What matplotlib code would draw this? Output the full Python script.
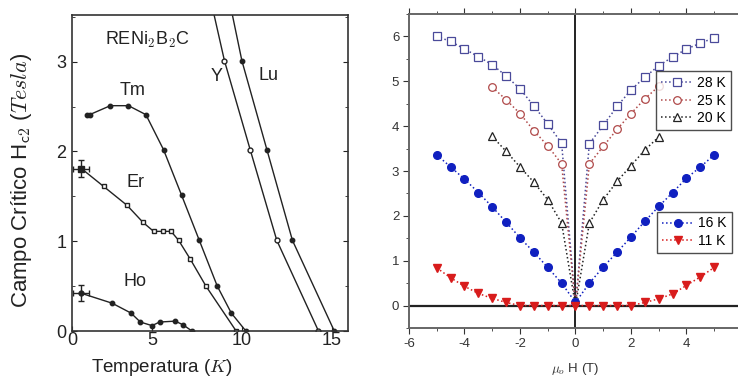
import matplotlib
matplotlib.use("Agg")
import matplotlib.pyplot as plt
from matplotlib.ticker import MultipleLocator

plt.rcParams['font.family'] = ['Liberation Sans', 'DejaVu Sans']
plt.rcParams['mathtext.fontset'] = 'cm'
plt.rcParams['axes.unicode_minus'] = False

# ---- left panel: Hc2 vs T for RENi2B2C ----
tm_t = [1.39, 1.53, 2.68, 3.69, 4.66, 5.64, 6.65, 7.63, 8.63, 9.41, 10.22]
tm_h = [2.41, 2.41, 2.51, 2.51, 2.41, 2.02, 1.51, 1.01, 0.50, 0.20, 0.00]
er_t = [1.07, 2.31, 3.61, 4.50, 5.09, 5.61, 6.06, 6.48, 7.13, 8.00, 9.68]
er_h = [1.81, 1.61, 1.40, 1.21, 1.11, 1.11, 1.11, 1.01, 0.80, 0.50, 0.00]
ho_t = [1.07, 2.78, 3.83, 4.35, 5.00, 5.42, 6.29, 6.72, 7.22]
ho_h = [0.42, 0.31, 0.20, 0.10, 0.06, 0.10, 0.11, 0.07, 0.00]
y_t = [8.42, 9.03, 10.46, 11.94, 14.26]
y_h = [3.55, 3.01, 2.02, 1.01, 0.00]
lu_t = [9.44, 10.00, 11.39, 12.81, 15.14]
lu_h = [3.55, 3.01, 2.02, 1.01, 0.00]

# ---- right panel: field dependence ----
h_full = [-5, -4.5, -4, -3.5, -3, -2.5, -2, -1.5, -1, -0.5, 0,
          0.5, 1, 1.5, 2, 2.5, 3, 3.5, 4, 4.5, 5]
h_mid = [-3, -2.5, -2, -1.5, -1, -0.5, 0, 0.5, 1, 1.5, 2, 2.5, 3]
v28 = [6.00, 5.89, 5.72, 5.55, 5.37, 5.12, 4.83, 4.45, 4.05, 3.62, 0.0,
       3.61, 4.02, 4.44, 4.81, 5.09, 5.35, 5.54, 5.72, 5.85, 5.97]
v25 = [4.87, 4.59, 4.28, 3.90, 3.56, 3.16, 0.0, 3.16, 3.55, 3.93, 4.28, 4.61, 4.89]
v20 = [3.77, 3.44, 3.09, 2.75, 2.36, 1.84, 0.0, 1.84, 2.36, 2.77, 3.12, 3.47, 3.76]
v16 = [3.36, 3.09, 2.82, 2.52, 2.20, 1.86, 1.51, 1.19, 0.85, 0.50, 0.07,
       0.50, 0.86, 1.19, 1.53, 1.88, 2.21, 2.52, 2.84, 3.09, 3.36]
v11 = [0.84, 0.62, 0.43, 0.27, 0.16, 0.07, 0.0, 0.0, 0.0, 0.0, 0.0,
       0.0, 0.0, 0.0, 0.0, 0.07, 0.15, 0.26, 0.45, 0.64, 0.85]

fig = plt.figure(figsize=(7.38, 3.81), dpi=100)

# left axes
ax1 = fig.add_axes([0.0976, 0.1312, 0.3739, 0.8294])
k = '#222222'
ax1.plot(tm_t, tm_h, '-', color=k, lw=1.0, marker='o', ms=3.2)
ax1.plot(er_t, er_h, '-', color=k, lw=1.0, marker='s', ms=3.5, mfc='white', markevery=list(range(1, len(er_t))))
ax1.errorbar(er_t[:1], er_h[:1], xerr=0.45, yerr=0.09, fmt='s', color=k, ms=5, capsize=2, elinewidth=1)
ax1.plot(ho_t, ho_h, '-', color=k, lw=1.0, marker='o', ms=3.2, markevery=list(range(1, len(ho_t))))
ax1.errorbar(ho_t[:1], ho_h[:1], xerr=0.45, yerr=0.09, fmt='o', color=k, ms=3.5, capsize=2, elinewidth=1)
ax1.plot(y_t, y_h, '-', color=k, lw=1.0, marker='o', ms=3.5, mfc='white', markevery=[1, 2, 3, 4])
ax1.plot(lu_t, lu_h, '-', color=k, lw=1.0, marker='o', ms=3.2, markevery=[1, 2, 3, 4])

ax1.set_xlim(0.55, 15.9)
ax1.set_ylim(0, 3.52)
ax1.set_xticks([0.55, 5, 10, 15])
ax1.set_xticklabels(['0', '5', '10', '15'])
ax1.set_yticks([0, 1, 2, 3])
ax1.yaxis.set_minor_locator(MultipleLocator(0.5))
ax1.tick_params(direction='in', right=True, which='both', labelsize=13, colors=k, pad=4)
ax1.tick_params(axis='x', pad=1)
for s in ax1.spines.values():
    s.set_color('#333333')
    s.set_linewidth(1.2)

ax1.text(2.4, 3.24, r'RENi$_\mathsf{2}$B$_\mathsf{2}$C', fontsize=13, va='center', color=k)
ax1.text(3.9, 2.68, 'Tm', fontsize=13, ha='center', va='center', color=k)
ax1.text(4.07, 1.65, 'Er', fontsize=13, ha='center', va='center', color=k)
ax1.text(4.07, 0.55, 'Ho', fontsize=13, ha='center', va='center', color=k)
ax1.text(8.6, 2.83, 'Y', fontsize=13, ha='center', va='center', color=k)
ax1.text(11.5, 2.85, 'Lu', fontsize=13, ha='center', va='center', color=k)

fig.text(22 / 738, 1 - 180 / 381, r'Campo Crítico H$_{\mathsf{c2}}$ ($Tesla$)',
         rotation=90, fontsize=16, ha='center', va='center', color=k)
fig.text(162 / 738, 1 - 367 / 381, r'Temperatura ($K$)', fontsize=13.5,
         ha='center', va='center', color=k)

# right axes
ax2 = fig.add_axes([0.5542, 0.1391, 0.4512, 0.8241])
ax2.axhline(0, color='#222222', lw=1.6, zorder=1)
ax2.axvline(0, color='#222222', lw=1.4, zorder=1)

c28, c25, c20, c16, c11 = '#4a4a9a', '#b04a4a', '#222222', '#1020c0', '#d81c1c'
skip0 = [i for i, x in enumerate(h_full) if x != 0]
skip0m = [i for i, x in enumerate(h_mid) if x != 0]
ax2.plot(h_full, v28, ':', color=c28, lw=1.1, marker='s', ms=5.5, mfc='white', mew=0.9,
         markevery=skip0, label='28 K')
ax2.plot(h_mid, v25, ':', color=c25, lw=1.1, marker='o', ms=5.5, mfc='white', mew=0.9,
         markevery=skip0m, label='25 K')
ax2.plot(h_mid, v20, ':', color=c20, lw=1.1, marker='^', ms=5.5, mfc='white', mew=0.9,
         markevery=skip0m, label='20 K')
l16, = ax2.plot(h_full, v16, ':', color=c16, lw=1.1, marker='o', ms=5.5, label='16 K')
l11, = ax2.plot(h_full, v11, ':', color=c11, lw=1.1, marker='v', ms=6, label='11 K')

ax2.set_xlim(-6, 6)
ax2.set_ylim(-0.5, 6.5)
ax2.set_xticks([-6, -4, -2, 0, 2, 4])
ax2.xaxis.set_minor_locator(MultipleLocator(1))
ax2.yaxis.set_major_locator(MultipleLocator(1))
ax2.yaxis.set_minor_locator(MultipleLocator(0.5))
ax2.tick_params(direction='out', which='both', top=True, labelsize=9.5, colors='#333333', pad=3)
ax2.tick_params(which='major', length=4)
ax2.tick_params(which='minor', length=2.5)
for s in ax2.spines.values():
    s.set_color('#666666')
    s.set_linewidth(1.4)
ax2.set_xlabel(r'$\mu_o$ H (T)', fontsize=9.5, labelpad=8, color='#333333')

h = ax2.get_legend_handles_labels()[0]
leg1 = ax2.legend(h[:3], ['28 K', '25 K', '20 K'], loc='upper right',
                  bbox_to_anchor=(0.966, 0.817), fontsize=10, frameon=True, fancybox=False,
                  edgecolor='#222222', handlelength=2.3, handletextpad=0.3,
                  labelspacing=0.25, borderpad=0.35, borderaxespad=0)
leg1.get_frame().set_linewidth(1.0)
ax2.add_artist(leg1)
leg2 = ax2.legend([l16, l11], ['16 K', '11 K'], loc='upper right',
                  bbox_to_anchor=(0.969, 0.371), fontsize=10, frameon=True, fancybox=False,
                  edgecolor='#222222', handlelength=2.3, handletextpad=0.3,
                  labelspacing=0.25, borderpad=0.35, borderaxespad=0)
leg2.get_frame().set_linewidth(1.0)

fig.savefig('out.png', dpi=100)
